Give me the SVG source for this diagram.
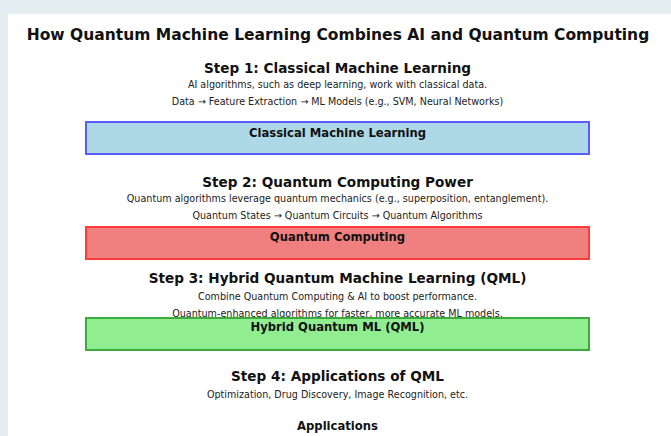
<svg xmlns="http://www.w3.org/2000/svg" width="671" height="436" viewBox="0 0 671 436">
  <style>
    text { font-family: "DejaVu Sans", "Liberation Sans", sans-serif; fill: #111; text-anchor: middle; }
    .title { font-size: 15.5px; font-weight: bold; }
    .step { font-size: 13.6px; font-weight: bold; }
    .desc { font-size: 9.6px; fill: #222; }
    .label { font-size: 11.6px; font-weight: bold; }
    .box { stroke-width: 2; }
  </style>
  <!-- page background and white panel -->
  <rect x="0" y="0" width="671" height="436" fill="#e5eff2"/>
  <rect x="8" y="14" width="663" height="422" fill="#ffffff"/>

  <text class="title" x="338" y="40">How Quantum Machine Learning Combines AI and Quantum Computing</text>

  <g id="connectors"></g>

  <g id="step1">
    <text class="step" x="337.5" y="73">Step 1: Classical Machine Learning</text>
    <text class="desc" x="337.5" y="88">AI algorithms, such as deep learning, work with classical data.</text>
    <text class="desc" x="337.5" y="105">Data → Feature Extraction → ML Models (e.g., SVM, Neural Networks)</text>
  </g>
  <g id="classical-ml">
    <rect class="box" x="86" y="122" width="503" height="32" fill="#add8e6" stroke="#5a5aff"/>
    <text class="label" x="337.5" y="137">Classical Machine Learning</text>
  </g>

  <g id="step2">
    <text class="step" x="337.5" y="187">Step 2: Quantum Computing Power</text>
    <text class="desc" x="337.5" y="202">Quantum algorithms leverage quantum mechanics (e.g., superposition, entanglement).</text>
    <text class="desc" x="337.5" y="219">Quantum States → Quantum Circuits → Quantum Algorithms</text>
  </g>
  <g id="quantum-computing">
    <rect class="box" x="86" y="227" width="503" height="32" fill="#f08080" stroke="#ff3b3b"/>
    <text class="label" x="337.5" y="241">Quantum Computing</text>
  </g>

  <g id="step3">
    <text class="step" x="337.5" y="283">Step 3: Hybrid Quantum Machine Learning (QML)</text>
    <text class="desc" x="337.5" y="300">Combine Quantum Computing &amp; AI to boost performance.</text>
    <text class="desc" x="337.5" y="317">Quantum-enhanced algorithms for faster, more accurate ML models.</text>
  </g>
  <g id="hybrid-qml">
    <rect class="box" x="86" y="318" width="503" height="32" fill="#90ee90" stroke="#3daa3d"/>
    <text class="label" x="337.5" y="331">Hybrid Quantum ML (QML)</text>
  </g>

  <g id="step4">
    <text class="step" x="337.5" y="381">Step 4: Applications of QML</text>
    <text class="desc" x="337.5" y="398">Optimization, Drug Discovery, Image Recognition, etc.</text>
  </g>
  <g id="applications">
    <text class="label" x="337.5" y="430">Applications</text>
  </g>
</svg>
